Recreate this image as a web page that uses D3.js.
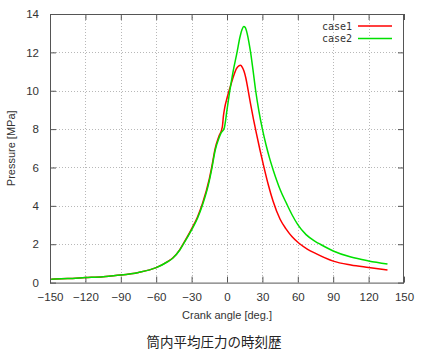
<!DOCTYPE html>
<html>
<head>
<meta charset="utf-8">
<script src="https://cdn.jsdelivr.net/npm/d3@7"></script>
<style>
  html, body { margin: 0; padding: 0; background: #fff; }
  svg { display: block; }
</style>
</head>
<body>
<svg id="chart" width="431" height="361"></svg>
<script>
// ---- data ----
const seriesNames = ["case1", "case2"];
const seriesColors = ["#ff0000", "#00e000"];

const case1Angle = [-149, -135, -120, -105, -90, -75, -60, -50, -46, -40, -37, -30, -25, -21, -15, -13, -10, -7, -4, -3, -2, -0.5, 1.5, 3.5, 5.5, 8, 10, 11.5, 13, 14.5, 16, 17.7, 20, 22.5, 25, 28, 31, 35, 39, 45, 50, 55, 61, 68, 75, 90, 105, 120, 136];
const case1Pressure = [0.18, 0.21, 0.26, 0.31, 0.39, 0.53, 0.78, 1.1, 1.28, 1.72, 2.03, 2.8, 3.42, 4.08, 5.4, 6.0, 7.0, 7.6, 8.1, 8.7, 9.1, 9.5, 9.95, 10.35, 10.75, 11.15, 11.3, 11.33, 11.22, 11.0, 10.65, 10.1, 9.3, 8.5, 7.75, 6.9, 6.1, 5.1, 4.25, 3.3, 2.8, 2.4, 2.05, 1.75, 1.52, 1.12, 0.92, 0.79, 0.66];

const case2Angle = [-149, -135, -120, -105, -90, -75, -60, -50, -46, -40, -37, -30, -25, -21, -15, -13, -10, -7, -5, -2.3, 0, 2, 5, 8.5, 11, 12.8, 14.2, 15.5, 17, 18.5, 20, 22, 24.3, 27, 30, 33, 36, 39, 42, 45, 50.6, 55, 60, 67, 75, 79, 90, 105, 120, 136];
const case2Pressure = [0.18, 0.21, 0.26, 0.31, 0.39, 0.53, 0.78, 1.1, 1.27, 1.7, 2.0, 2.75, 3.35, 4.0, 5.3, 5.9, 6.9, 7.5, 7.8, 8.06, 9.0, 9.85, 10.95, 12.0, 12.8, 13.2, 13.35, 13.3, 13.0, 12.55, 12.0, 11.1, 10.0, 8.95, 8.0, 7.2, 6.5, 5.9, 5.35, 4.85, 4.1, 3.55, 3.02, 2.5, 2.14, 2.0, 1.65, 1.33, 1.13, 0.97];

const xTickValues = [-150, -120, -90, -60, -30, 0, 30, 60, 90, 120, 150];
const yTickValues = [0, 2, 4, 6, 8, 10, 12, 14];

const xLabel = "Crank angle [deg.]";
const yLabel = "Pressure [MPa]";
const chartTitle = "筒内平均圧力の時刻歴";

// ---- layout ----
const svg = d3.select("#chart");
const L = 50, R = 404, T = 14, B = 282.6;
const x = d3.scaleLinear().domain([-150, 150]).range([L, R]);
const y = d3.scaleLinear().domain([0, 14]).range([B, T]);
const font = "'Liberation Sans', Arial, sans-serif";
const textColor = "#333";

// grid
const grid = svg.append("g");
grid.selectAll("line.gx").data(xTickValues.slice(1, -1)).join("line")
  .attr("x1", d => Math.round(x(d)) + 0.5).attr("x2", d => Math.round(x(d)) + 0.5)
  .attr("y1", T).attr("y2", B)
  .attr("stroke", "#b8b8b8").attr("stroke-width", 1).attr("stroke-dasharray", "1,2");
grid.selectAll("line.gy").data(yTickValues.slice(1, -1)).join("line")
  .attr("y1", d => Math.round(y(d)) + 0.5).attr("y2", d => Math.round(y(d)) + 0.5)
  .attr("x1", L).attr("x2", R)
  .attr("stroke", "#b8b8b8").attr("stroke-width", 1).attr("stroke-dasharray", "1,2");

// axes (ticks inward, mirrored)
const tickLen = 6;
function styleAxis(g) {
  g.select(".domain").remove();
  g.selectAll(".tick line").attr("stroke", "#555");
  g.selectAll(".tick text").attr("fill", textColor).style("font-family", font).style("font-size", "11.5px");
}
svg.append("g").attr("transform", `translate(0,${B})`)
  .call(d3.axisBottom(x).tickValues(xTickValues).tickSize(-tickLen).tickPadding(10).tickFormat(d3.format("d")))
  .call(styleAxis);
svg.append("g").attr("transform", `translate(0,${T})`)
  .call(d3.axisTop(x).tickValues(xTickValues).tickSize(-tickLen).tickFormat(""))
  .call(styleAxis);
svg.append("g").attr("transform", `translate(${L},0)`)
  .call(d3.axisLeft(y).tickValues(yTickValues).tickSize(-tickLen).tickPadding(11).tickFormat(d3.format("d")))
  .call(styleAxis);
svg.append("g").attr("transform", `translate(${R},0)`)
  .call(d3.axisRight(y).tickValues(yTickValues).tickSize(-tickLen).tickFormat(""))
  .call(styleAxis);

// border
svg.append("rect").attr("x", L + 0.5).attr("y", T + 0.5)
  .attr("width", R - L - 1).attr("height", B - T)
  .attr("fill", "none").attr("stroke", "#555").attr("stroke-width", 1);

// lines
const line = d3.line().curve(d3.curveMonotoneX).x(d => x(d[0])).y(d => y(d[1]));
const series = [
  case1Angle.map((a, i) => [a, case1Pressure[i]]),
  case2Angle.map((a, i) => [a, case2Pressure[i]])
];
series.forEach((s, i) => {
  svg.append("path").datum(s).attr("d", line)
    .attr("fill", "none").attr("stroke", seriesColors[i]).attr("stroke-width", 1.5)
    .attr("stroke-linejoin", "round");
});

// legend
const legend = svg.append("g");
seriesNames.forEach((n, i) => {
  const ly = 26 + i * 12.6;
  legend.append("text").attr("x", 352).attr("y", ly).attr("dy", "0.35em")
    .attr("text-anchor", "end").attr("fill", textColor)
    .style("font-family", "'DejaVu Sans Mono', monospace").style("font-size", "10px").text(n);
  legend.append("line").attr("x1", 358).attr("x2", 392).attr("y1", ly).attr("y2", ly)
    .attr("stroke", seriesColors[i]).attr("stroke-width", 1.5);
});

// axis labels
svg.append("text").attr("x", (L + R) / 2).attr("y", 315).attr("dy", "0.35em")
  .attr("text-anchor", "middle").attr("fill", textColor)
  .style("font-family", font).style("font-size", "11px").text(xLabel);
svg.append("text").attr("transform", `translate(11,${(T + B) / 2}) rotate(-90)`)
  .attr("dy", "0.35em").attr("text-anchor", "middle").attr("fill", textColor)
  .style("font-family", font).style("font-size", "11px").text(yLabel);

// title
svg.append("text").attr("x", 214).attr("y", 342).attr("dy", "0.35em")
  .attr("text-anchor", "middle").attr("fill", "#222")
  .style("font-family", "'Noto Sans CJK JP', sans-serif").style("font-size", "13.5px").text(chartTitle);
</script>
</body>
</html>
